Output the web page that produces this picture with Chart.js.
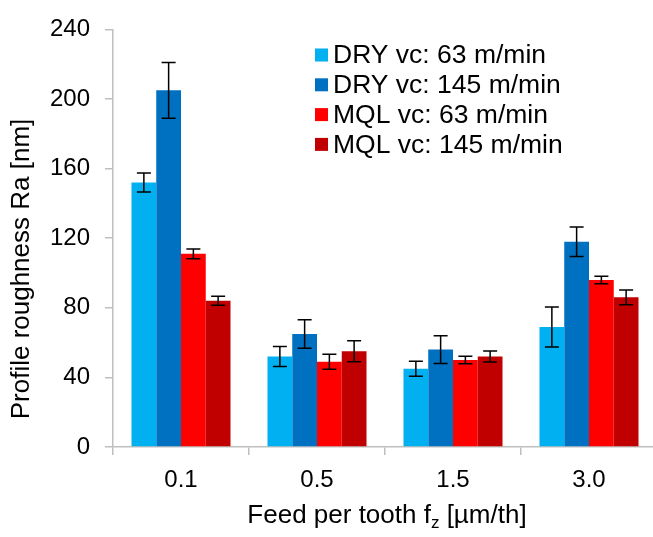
<!DOCTYPE html>
<html>
<head>
<meta charset="utf-8">
<script src="https://cdn.jsdelivr.net/npm/chart.js@4.4.1/dist/chart.umd.min.js"></script>
<style>
    html, body { margin: 0; padding: 0; background: #fff; overflow: hidden; }
    canvas { display: block; }
</style>
</head>
<body>
<canvas id="roughnessChart" width="660" height="537"></canvas>
<script>
// categories and tick labels
const feedLabels = ['0.1', '0.5', '1.5', '3.0'];
const yTicks = [0, 40, 80, 120, 160, 200, 240];

// series (mean Ra in nm) and their error bars
const seriesNames = ['DRY vc: 63 m/min', 'DRY vc: 145 m/min', 'MQL vc: 63 m/min', 'MQL vc: 145 m/min'];
const dry63 = [152, 52, 45, 69];
const dry145 = [205, 65, 56, 118];
const mql63 = [111, 49, 50, 96];
const mql145 = [84, 55, 52, 86];
const dry63Err = [5.5, 5.8, 4.3, 11.5];
const dry145Err = [16, 8.2, 8, 8.5];
const mql63Err = [2.8, 4.3, 2.1, 2.2];
const mql145Err = [2.6, 6, 3.2, 4.3];

const seriesColors = ['#00b0f0', '#0070c0', '#ff0000', '#c00000'];
const fontFamily = "Arial, 'Liberation Sans', sans-serif";
const axisColor = '#bfbfbf';

Chart.defaults.font.family = fontFamily;
Chart.defaults.color = '#000';

const errorBars = {
    id: 'errorBars',
    afterDatasetsDraw(chart) {
        const ctx = chart.ctx;
        const yScale = chart.scales.y;
        ctx.save();
        ctx.strokeStyle = '#000';
        ctx.lineWidth = 1.5;
        chart.data.datasets.forEach((ds, i) => {
            const meta = chart.getDatasetMeta(i);
            meta.data.forEach((bar, j) => {
                const v = ds.data[j];
                const e = ds.errors[j];
                const top = yScale.getPixelForValue(v + e);
                const bottom = yScale.getPixelForValue(v - e);
                ctx.beginPath();
                ctx.moveTo(bar.x, top);
                ctx.lineTo(bar.x, bottom);
                ctx.moveTo(bar.x - 7, top);
                ctx.lineTo(bar.x + 7, top);
                ctx.moveTo(bar.x - 7, bottom);
                ctx.lineTo(bar.x + 7, bottom);
                ctx.stroke();
            });
        });
        ctx.restore();
    }
};

const insideLegend = {
    id: 'insideLegend',
    afterDraw(chart) {
        const ctx = chart.ctx;
        ctx.save();
        ctx.font = `26.5px ${fontFamily}`;
        ctx.textBaseline = 'middle';
        ctx.textAlign = 'left';
        chart.data.datasets.forEach((ds, i) => {
            const y = 55 + i * 29.8;
            ctx.fillStyle = ds.backgroundColor;
            ctx.fillRect(315, y - 6.5, 13, 13);
            ctx.fillStyle = '#000';
            ctx.fillText(ds.label, 333, y + 1);
        });
        ctx.restore();
    }
};

const axisTitles = {
    id: 'axisTitles',
    afterDraw(chart) {
        const ctx = chart.ctx;
        ctx.save();
        ctx.fillStyle = '#000';
        ctx.font = `26px ${fontFamily}`;
        ctx.textAlign = 'center';
        ctx.textBaseline = 'middle';
        ctx.translate(22, 269);
        ctx.rotate(-Math.PI / 2);
        ctx.fillText('Profile roughness Ra [nm]', 0, 0);
        ctx.restore();

        // x title, with subscript z
        ctx.save();
        ctx.fillStyle = '#000';
        ctx.textAlign = 'left';
        ctx.textBaseline = 'alphabetic';
        const mainFont = `26px ${fontFamily}`;
        const subFont = `17px ${fontFamily}`;
        const partA = 'Feed per tooth f';
        const partB = 'z';
        const partC = ' [µm/th]';
        ctx.font = mainFont;
        const wA = ctx.measureText(partA).width;
        const wC = ctx.measureText(partC).width;
        ctx.font = subFont;
        const wB = ctx.measureText(partB).width;
        let x = 387 - (wA + wB + wC) / 2;
        const baseY = 523;
        ctx.font = mainFont;
        ctx.fillText(partA, x, baseY);
        x += wA;
        ctx.font = subFont;
        ctx.fillText(partB, x, baseY + 5);
        x += wB;
        ctx.font = mainFont;
        ctx.fillText(partC, x, baseY);
        ctx.restore();
    }
};

new Chart(document.getElementById('roughnessChart'), {
    type: 'bar',
    data: {
        labels: feedLabels,
        datasets: [
            { label: seriesNames[0], data: dry63, errors: dry63Err, backgroundColor: seriesColors[0] },
            { label: seriesNames[1], data: dry145, errors: dry145Err, backgroundColor: seriesColors[1] },
            { label: seriesNames[2], data: mql63, errors: mql63Err, backgroundColor: seriesColors[2] },
            { label: seriesNames[3], data: mql145, errors: mql145Err, backgroundColor: seriesColors[3] },
        ],
    },
    options: {
        responsive: false,
        animation: false,
        layout: { padding: { top: 19, right: 3, bottom: 0, left: 0 } },
        datasets: { bar: { categoryPercentage: 0.728, barPercentage: 1.0 } },
        plugins: {
            legend: { display: false },
            tooltip: { enabled: false },
        },
        scales: {
            x: {
                afterFit: (scale) => { scale.height = 90; },
                grid: { offset: true, drawOnChartArea: false, drawTicks: true, tickLength: 8, color: axisColor, lineWidth: 1.5 },
                border: { display: true, color: axisColor, width: 1.5 },
                ticks: { font: { size: 24 }, padding: 11, color: '#000' },
            },
            y: {
                min: 0,
                max: 240,
                afterFit: (scale) => { scale.width = 113; },
                afterBuildTicks: (scale) => { scale.ticks = yTicks.map(v => ({ value: v })); },
                grid: { drawOnChartArea: false, drawTicks: true, tickLength: 8, color: axisColor, lineWidth: 1.5 },
                border: { display: true, color: axisColor, width: 1.5 },
                ticks: { font: { size: 24 }, padding: 15, color: '#000' },
            },
        },
    },
    plugins: [errorBars, insideLegend, axisTitles],
});
</script>
</body>
</html>
